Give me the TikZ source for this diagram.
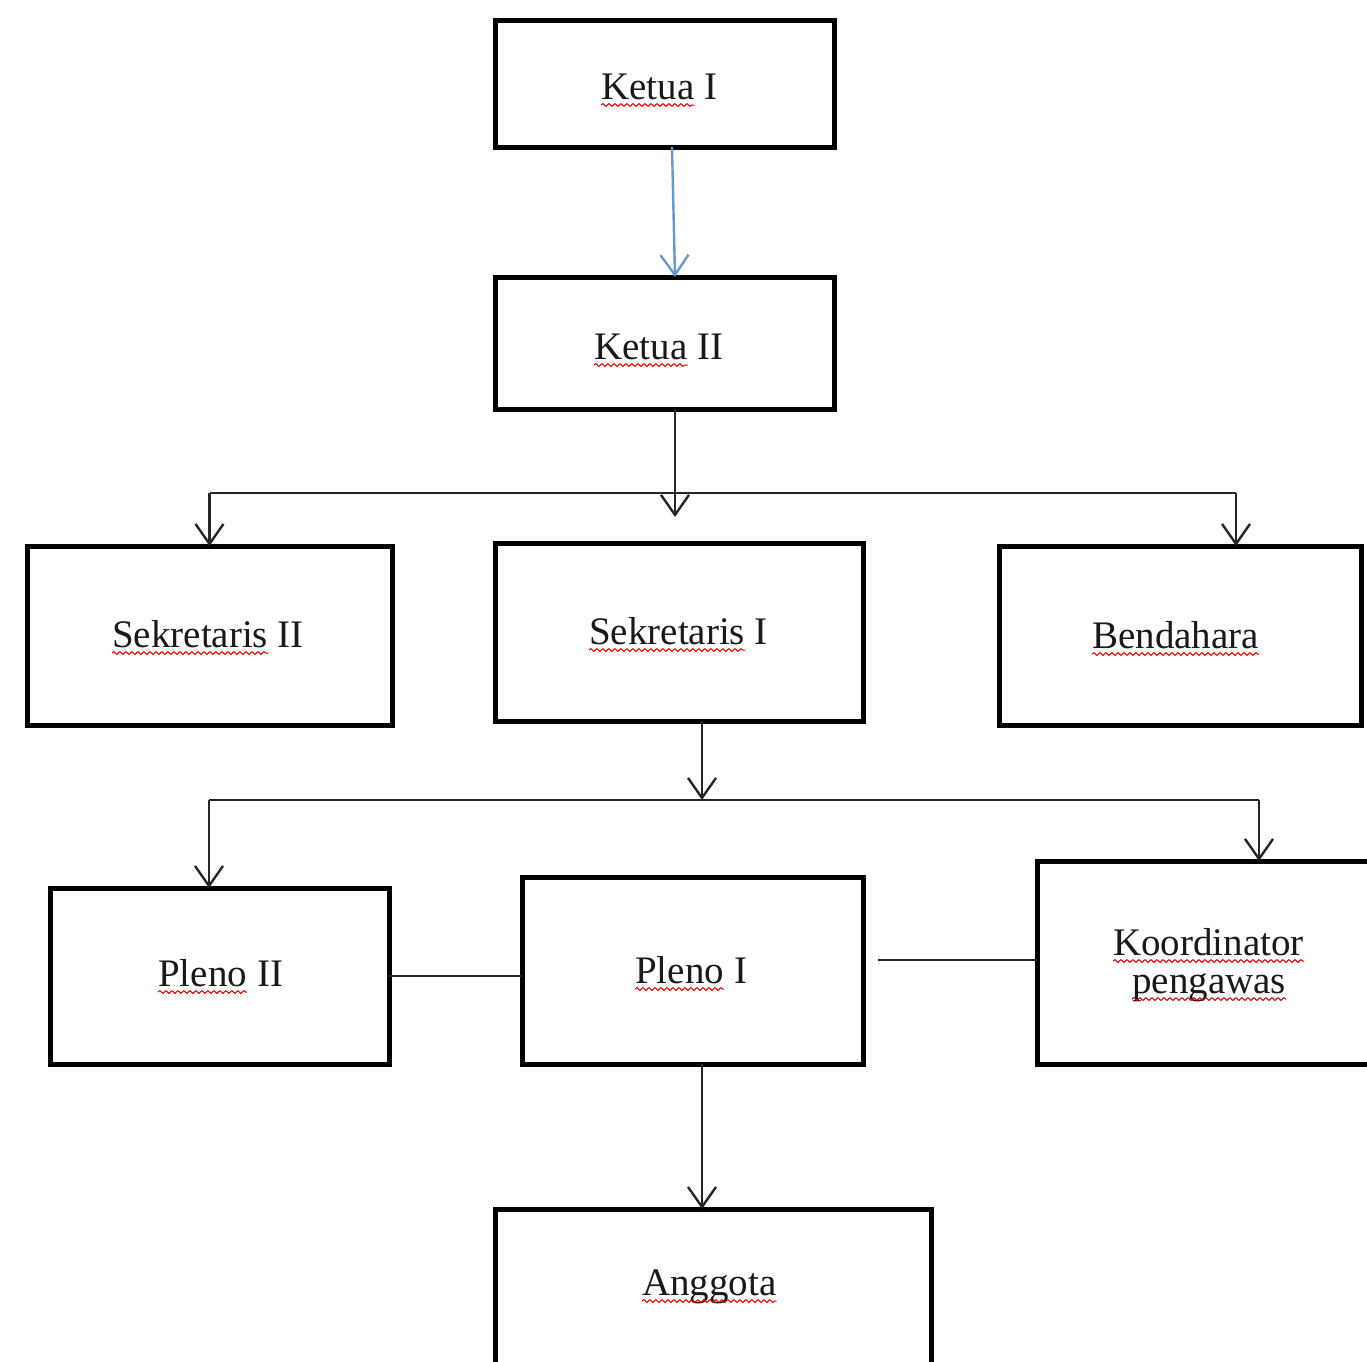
\documentclass[tikz,border=0pt]{standalone}
\usepackage{fontspec}
\setmainfont{Liberation Serif}
\usetikzlibrary{arrows.meta,decorations.pathmorphing}
\begin{document}
\begin{tikzpicture}[x=1pt,y=-1pt,
  box/.style={draw=black, line width=5pt, rectangle, inner sep=0pt, outer sep=0pt},
  lbl/.style={font=\fontsize{39}{44}\selectfont, inner sep=0pt, anchor=base west, text=black!90},
  squig/.style={draw=red!85!black, line width=1pt, decorate, decoration={snake, segment length=6pt, amplitude=1.4pt}},
  conn/.style={line width=2.4pt, draw=black!85},
  arr/.style={conn, -{Straight Barb[length=20pt,width=28pt]}},
  barr/.style={line width=2.4pt, draw={rgb,255:red,110;green,150;blue,205}, -{Straight Barb[length=20pt,width=28pt]}}]
\useasboundingbox (0,0) rectangle (1367,1361);
\clip (0,0) rectangle (1367,1361);
\fill[white] (0,0) rectangle (1367,1361);
% boxes
\node[box, minimum width=339pt, minimum height=127pt] (k1) at (664.5,83.5) {};
\node[box, minimum width=339pt, minimum height=132pt] (k2) at (664.5,343) {};
\node[box, minimum width=365pt, minimum height=179pt] (s2) at (209.5,635.5) {};
\node[box, minimum width=368pt, minimum height=178pt] (s1) at (679,632) {};
\node[box, minimum width=362pt, minimum height=179pt] (bd) at (1180,635.5) {};
\node[box, minimum width=339pt, minimum height=176pt] (p2) at (219.5,976) {};
\node[box, minimum width=341pt, minimum height=187pt] (p1) at (692.5,970.5) {};
\node[box, minimum width=353pt, minimum height=203pt] (ko) at (1213.5,962.5) {};
\node[box, minimum width=436pt, minimum height=191pt] (an) at (713,1304.5) {};
% labels (underlined word + rest)
\node[lbl] (tk1) at (601,99) {Ketua};
\node[lbl] (tk1r) at ([xshift=10pt]tk1.base east) {I};
\node[lbl] (tk2) at (594,359) {Ketua};
\node[lbl] (tk2r) at ([xshift=10pt]tk2.base east) {II};
\node[lbl] (ts2) at (112,647) {Sekretaris};
\node[lbl] (ts2r) at ([xshift=9pt]ts2.base east) {II};
\node[lbl] (ts1) at (589,644) {Sekretaris};
\node[lbl] (ts1r) at ([xshift=9pt]ts1.base east) {I};
\node[lbl] (tbd) at (1092,648) {Bendahara};
\node[lbl] (tp2) at (158,986) {Pleno};
\node[lbl] (tp2r) at ([xshift=10pt]tp2.base east) {II};
\node[lbl] (tp1) at (635,983) {Pleno};
\node[lbl] (tp1r) at ([xshift=10pt]tp1.base east) {I};
\node[lbl] (tkoa) at (1113,955) {Koordinator};
\node[lbl] (tkob) at (1132,993) {pengawas};
\node[lbl] (tan) at (642,1295) {Anggota};
% spell-check squiggles
\foreach \w in {tk1,tk2,ts2,ts1,tbd,tp2,tp1,tkoa,tkob,tan}
  \draw[squig] ([yshift=-6pt]\w.base west) -- ([yshift=-6pt]\w.base east);
% junction coordinates
\coordinate (b1) at (675,493);
\coordinate (e1) at (675,517);
\coordinate (b2) at (702,800);
\coordinate (pk) at (878,960);
% connectors
\draw[barr] ([xshift=7.5pt]k1.south) -- ([xshift=10.5pt]k2.north);
\draw[arr] ([xshift=10.5pt]k2.south) -- (e1);
\draw[conn] (s2.north |- b1) -- ([xshift=56pt]bd.north |- b1);
\draw[arr] (s2.north |- b1) -- (s2.north);
\draw[arr] ([xshift=56pt]bd.north |- b1) -- ([xshift=56pt]bd.north);
\draw[arr] ([xshift=23pt]s1.south) -- (b2);
\draw[conn] ([xshift=-10.5pt]p2.north |- b2) -- ([xshift=45.5pt]ko.north |- b2);
\draw[arr] ([xshift=-10.5pt]p2.north |- b2) -- ([xshift=-10.5pt]p2.north);
\draw[arr] ([xshift=45.5pt]ko.north |- b2) -- ([xshift=45.5pt]ko.north);
\draw[conn] (p2.east) -- (p1.west |- p2.east);
\draw[conn] (pk) -- (ko.west |- pk);
\draw[arr] ([xshift=9.5pt]p1.south) -- ([xshift=-11pt]an.north);
\end{tikzpicture}
\end{document}
